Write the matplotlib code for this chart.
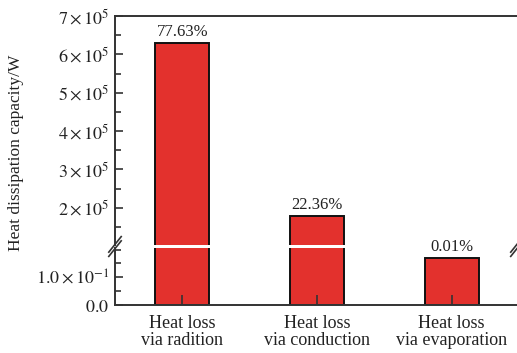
import numpy as np
import matplotlib
matplotlib.use('Agg')
import matplotlib.pyplot as plt
from matplotlib.ticker import FixedLocator, MultipleLocator

plt.rcParams['font.family'] = ['Liberation Serif', 'DejaVu Serif']
plt.rcParams['mathtext.fontset'] = 'stix'

categories = ['Heat loss\nvia radition', 'Heat loss\nvia conduction', 'Heat loss\nvia evaporation']
values = [6.30e5, 1.79e5, 0.171]
percent_labels = ['77.63%', '22.36%', '0.01%']

upper_ticks = [2e5, 3e5, 4e5, 5e5, 6e5, 7e5]
upper_ticklabels = [r'$2\times10^{5}$', r'$3\times10^{5}$', r'$4\times10^{5}$',
                    r'$5\times10^{5}$', r'$6\times10^{5}$', r'$7\times10^{5}$']
lower_ticks = [0.0, 0.1]
lower_ticklabels = [r'$0.0$', r'$1.0\times10^{-1}$']

W, H = 517, 353
fig = plt.figure(figsize=(W / 100, H / 100), dpi=100)

left = 115 / W
right = 519 / W
ax_hi = fig.add_axes([left, 1 - 245 / H, right - left, (245 - 16) / H])
ax_lo = fig.add_axes([left, 1 - 305 / H, right - left, (305 - 248) / H])

x = np.arange(len(categories))
bar_color = '#e3312d'
spine_color = '#333333'
text_color = '#222222'

for ax in (ax_hi, ax_lo):
    ax.bar(x, values, width=0.4, color=bar_color, edgecolor='#111111', linewidth=1.4)
    ax.set_xlim(-0.5, 2.5)
    for s in ax.spines.values():
        s.set_color(spine_color)
        s.set_linewidth(1.4)
    ax.spines['right'].set_visible(False)
    ax.tick_params(axis='both', which='both', direction='in', colors=spine_color,
                   labelcolor=text_color, labelsize=13, width=1.2)
    ax.tick_params(axis='y', which='major', length=6, pad=4)
    ax.tick_params(axis='y', which='minor', length=4)

ax_hi.set_ylim(1.03e5, 7e5)
ax_hi.yaxis.set_major_locator(FixedLocator(upper_ticks))
ax_hi.set_yticklabels(upper_ticklabels)
ax_hi.yaxis.set_minor_locator(MultipleLocator(0.5e5))
ax_hi.spines['bottom'].set_visible(False)
ax_hi.set_xticks([])

ax_lo.set_ylim(0, 0.206)
ax_lo.yaxis.set_major_locator(FixedLocator(lower_ticks))
ax_lo.set_yticklabels(lower_ticklabels)
ax_lo.yaxis.set_minor_locator(MultipleLocator(0.05))
ax_lo.spines['top'].set_visible(False)
ax_lo.set_xticks(x)
ax_lo.set_xticklabels(categories, fontsize=13, linespacing=1.0)
ax_lo.tick_params(axis='x', length=7, pad=7)

# percentage labels over bar tops
for xi, v, lab in zip(x, values, percent_labels):
    ax = ax_hi if v > ax_hi.get_ylim()[0] else ax_lo
    ax.annotate(lab, (xi, v), xytext=(0, 2), textcoords='offset points',
                ha='center', va='bottom', fontsize=12, color=text_color)

# break marks
d = 0.012
kw = dict(color=spine_color, lw=1.2, clip_on=False)
yb = 1 - 246.5 / H
for xb in (left, right - 0.004):
    for off in (-0.006, 0.006):
        fig.add_artist(plt.Line2D([xb - d, xb + d], [yb - 0.022 + off, yb + 0.022 + off],
                                  transform=fig.transFigure, **kw))

fig.text(16 / W, 1 - 153 / H, 'Heat dissipation capacity/W', rotation=90,
         ha='center', va='center', fontsize=12.5, color=text_color)

fig.savefig('out.png', dpi=100)
